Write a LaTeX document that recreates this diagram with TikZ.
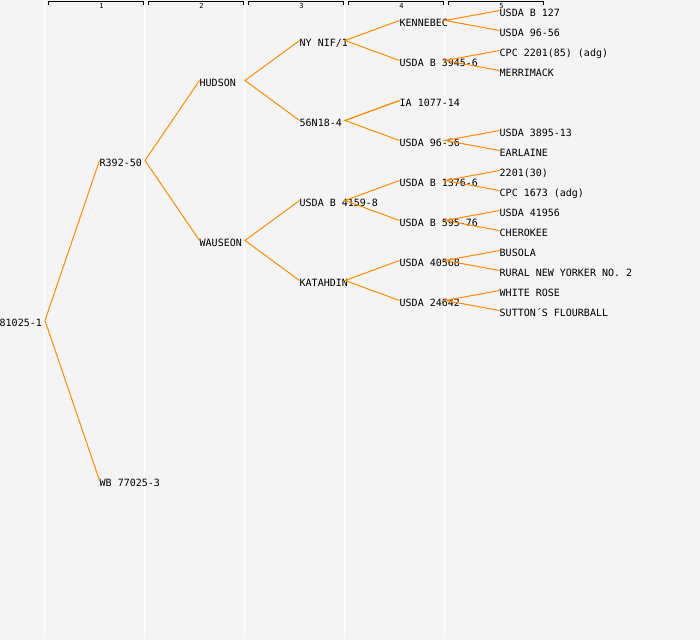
\documentclass[tikz,border=0pt]{standalone}
\usepackage{fontspec}
\newfontfamily\pf{DejaVu Sans Mono}
\definecolor{bg}{HTML}{F4F4F4}
\definecolor{ln}{RGB}{255,140,0}
\begin{document}
\begin{tikzpicture}[x=1pt,y=-1pt,
  person/.style={anchor=west,inner sep=0pt,text height=11pt,text depth=0pt,font=\pf\fontsize{10}{10}\selectfont},
  link/.style={draw=ln,line width=1pt},
  sep/.style={draw=white,line width=1.3pt},
  bracket/.style={draw=black,line width=0.9pt},
  colnum/.style={inner sep=0pt,anchor=base,font=\pf\fontsize{7}{7}\selectfont}]
\fill[bg] (0,0) rectangle (700,640);
\useasboundingbox (0,0) rectangle (700,640);
\foreach \x in {44.6,144.6,244.6,344.6,444.6} \draw[sep] (\x,0) -- (\x,638);
\foreach \k in {1,...,5} {
  \draw[bracket] (100*\k-52,4.5) -- (100*\k-52,1) -- (100*\k+43,1) -- (100*\k+43,4.5);
  \node[colnum] (c\k) at (100*\k+1.5,8.7) {\k};
}
% generation 0
\node[person] (root) at (-0.5,320.5) {81025-1};
% generation 1
\node[person] (r392) at (99.5,160.5) {R392-50};
\node[person] (wb) at (99.5,480.5) {WB 77025-3};
% generation 2
\node[person] (hud) at (199.5,80.5) {HUDSON};
\node[person] (wau) at (199.5,240.5) {WAUSEON};
% generation 3
\node[person] (nynif) at (299.5,40.5) {NY NIF/1};
\node[person] (n56) at (299.5,120.5) {56N18-4};
\node[person] (b4159) at (299.5,200.5) {USDA B 4159-8};
\node[person] (kat) at (299.5,280.5) {KATAHDIN};
% generation 4
\node[person] (ken) at (399.5,20.5) {KENNEBEC};
\node[person] (b3945) at (399.5,60.5) {USDA B 3945-6};
\node[person] (ia) at (399.5,100.5) {IA 1077-14};
\node[person] (u9656a) at (399.5,140.5) {USDA 96-56};
\node[person] (b1376) at (399.5,180.5) {USDA B 1376-6};
\node[person] (b595) at (399.5,220.5) {USDA B 595-76};
\node[person] (u40568) at (399.5,260.5) {USDA 40568};
\node[person] (u24642) at (399.5,300.5) {USDA 24642};
% generation 5
\node[person] (b127) at (499.5,10.5) {USDA B 127};
\node[person] (u9656b) at (499.5,30.5) {USDA 96-56};
\node[person] (cpc2201) at (499.5,50.5) {CPC 2201(85) (adg)};
\node[person] (merr) at (499.5,70.5) {MERRIMACK};
\node[person] (u3895) at (499.5,130.5) {USDA 3895-13};
\node[person] (earl) at (499.5,150.5) {EARLAINE};
\node[person] (p2201) at (499.5,170.5) {2201(30)};
\node[person] (cpc1673) at (499.5,190.5) {CPC 1673 (adg)};
\node[person] (u41956) at (499.5,210.5) {USDA 41956};
\node[person] (cher) at (499.5,230.5) {CHEROKEE};
\node[person] (bus) at (499.5,250.5) {BUSOLA};
\node[person] (rny) at (499.5,270.5) {RURAL NEW YORKER NO. 2};
\node[person] (wr) at (499.5,290.5) {WHITE ROSE};
\node[person] (sut) at (499.5,310.5) {SUTTON´S FLOURBALL};
% connectors
\foreach \p/\a/\b in {root/r392/wb, r392/hud/wau, hud/nynif/n56, wau/b4159/kat,
  nynif/ken/b3945, n56/ia/u9656a, b4159/b1376/b595, kat/u40568/u24642,
  ken/b127/u9656b, b3945/cpc2201/merr, u9656a/u3895/earl, b1376/p2201/cpc1673,
  b595/u41956/cher, u40568/bus/rny, u24642/wr/sut}
  \draw[link] (\a.west) -- ([xshift=45.5pt]\p.west) -- (\b.west);
\draw[link] ([xshift=45.5pt]n56.west) -- (ia.west);
\end{tikzpicture}
\end{document}
